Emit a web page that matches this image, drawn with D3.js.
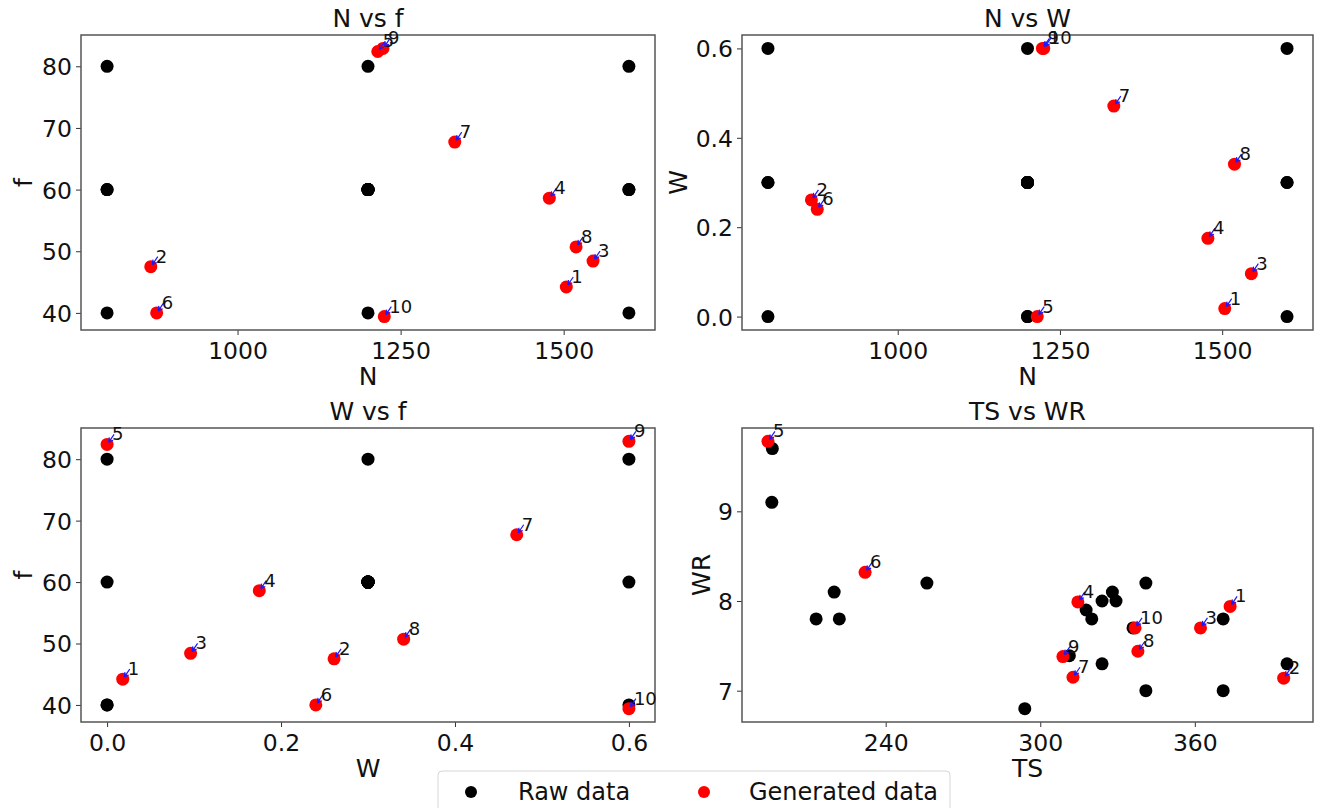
<!DOCTYPE html>
<html>
<head>
<meta charset="utf-8">
<script src="https://cdn.jsdelivr.net/npm/d3@7"></script>
<style>
  html, body { margin: 0; padding: 0; background: #fff; }
  svg { display: block; }
  text { font-family: "DejaVu Sans", sans-serif; fill: #111; }
</style>
</head>
<body>
<svg id="chart" width="1317" height="808"></svg>
<script>
// ---------- Data ----------
// Raw experimental runs (design points)
const rawN  = [800, 800, 800, 1600, 1600, 1600, 1200, 1200, 1200, 1200, 1200, 800, 1600, 1200, 1200, 1200, 1200, 1200, 1200, 1200];
const rawF  = [40, 80, 60, 40, 80, 60, 40, 80, 60, 60, 60, 60, 60, 60, 60, 60, 60, 60, 60, 60];
const rawW  = [0, 0.6, 0.3, 0.6, 0, 0.3, 0, 0.3, 0, 0.6, 0.3, 0.3, 0.3, 0.3, 0.3, 0.3, 0.3, 0.3, 0.3, 0.3];
// Raw responses
const rawTS = [196, 195.8, 213, 220, 222, 256, 294, 311.3, 317.8, 320, 324, 324, 328, 329.4, 336, 341, 341, 371, 371, 395.8];
const rawWR = [9.70, 9.10, 7.8, 8.1, 7.8, 8.2, 6.8, 7.39, 7.9, 7.8, 8.0, 7.3, 8.1, 8.0, 7.7, 8.2, 7.0, 7.8, 7.0, 7.3];

// Generated points, labelled 1..10
const genLabels = ["1", "2", "3", "4", "5", "6", "7", "8", "9", "10"];
const genN  = [1504, 867, 1545, 1478, 1215, 876, 1333, 1519, 1223, 1225];
const genF  = [44.2, 47.5, 48.4, 58.6, 82.4, 40.0, 67.7, 50.7, 82.9, 39.4];
const genW  = [0.018, 0.261, 0.096, 0.175, 0.0, 0.240, 0.471, 0.341, 0.600, 0.600];
const genTS = [373.7, 394.5, 362.2, 314.6, 194.3, 232.0, 312.7, 337.9, 308.8, 336.8];
const genWR = [7.94, 7.14, 7.70, 7.99, 9.78, 8.32, 7.15, 7.44, 7.38, 7.70];

// Axis ticks
const ticksN  = [1000, 1250, 1500];
const ticksF  = [40, 50, 60, 70, 80];
const ticksW  = [0.0, 0.2, 0.4, 0.6];
const ticksTS = [240, 300, 360];
const ticksWR = [7, 8, 9];

const legendLabels = ["Raw data", "Generated data"];
const colors = { raw: "#000000", gen: "#ff0000", arrow: "#1a1aff" };

// ---------- Layout ----------
const svg = d3.select("#chart");
const panels = [
  { title: "N vs f", xl: "N",  yl: "f",  rx: rawN,  ry: rawF,  gx: genN,  gy: genF,  xt: ticksN,  yt: ticksF,  xf: d3.format("d"),   yf: d3.format("d"),   box: [81, 655, 35, 330],  ylx: 32 },
  { title: "N vs W", xl: "N",  yl: "W",  rx: rawN,  ry: rawW,  gx: genN,  gy: genW,  xt: ticksN,  yt: ticksW,  xf: d3.format("d"),   yf: d3.format(".1f"), box: [742, 1313, 35, 330], ylx: 687 },
  { title: "W vs f", xl: "W",  yl: "f",  rx: rawW,  ry: rawF,  gx: genW,  gy: genF,  xt: ticksW,  yt: ticksF,  xf: d3.format(".1f"), yf: d3.format("d"),   box: [81, 655, 428, 722], ylx: 32 },
  { title: "TS vs WR", xl: "TS", yl: "WR", rx: rawTS, ry: rawWR, gx: genTS, gy: genWR, xt: ticksTS, yt: ticksWR, xf: d3.format("d"),   yf: d3.format("d"),   box: [742, 1313, 428, 722], ylx: 710 }
];

function padDomain(a, b) {
  const lo = Math.min(d3.min(a), d3.min(b));
  const hi = Math.max(d3.max(a), d3.max(b));
  const m = (hi - lo) * 0.05;
  return [lo - m, hi + m];
}

panels.forEach(p => {
  const [x0, x1, y0, y1] = p.box;
  const x = d3.scaleLinear().domain(padDomain(p.rx, p.gx)).range([x0, x1]);
  const y = d3.scaleLinear().domain(padDomain(p.ry, p.gy)).range([y1, y0]);
  const g = svg.append("g");

  // axes
  const xa = g.append("g").attr("transform", `translate(0,${y1})`)
    .call(d3.axisBottom(x).tickValues(p.xt).tickFormat(p.xf).tickSize(5).tickPadding(6).tickSizeOuter(0));
  const ya = g.append("g").attr("transform", `translate(${x0},0)`)
    .call(d3.axisLeft(y).tickValues(p.yt).tickFormat(p.yf).tickSize(5).tickPadding(4).tickSizeOuter(0));
  [xa, ya].forEach(a => {
    a.select(".domain").remove();
    a.selectAll(".tick line").attr("stroke", "#333").attr("stroke-width", 1);
    a.selectAll(".tick text").style("font-size", "23.5px").attr("fill", "#111")
      .style("font-family", "'DejaVu Sans', sans-serif");
  });
  xa.selectAll(".tick text").attr("dy", "0.75em");
  ya.selectAll(".tick text").attr("dy", "0.36em");

  // frame
  g.append("rect").attr("x", x0).attr("y", y0).attr("width", x1 - x0).attr("height", y1 - y0)
    .attr("fill", "none").attr("stroke", "#555").attr("stroke-width", 1.5);

  // title
  g.append("text").attr("x", (x0 + x1) / 2).attr("y", y0 - 8).attr("text-anchor", "middle")
    .style("font-size", "25px").text(p.title);
  // x label
  g.append("text").attr("x", (x0 + x1) / 2).attr("y", y1 + 55).attr("text-anchor", "middle")
    .style("font-size", "25px").text(p.xl);
  // y label
  g.append("text").attr("transform", `translate(${p.ylx},${(y0 + y1) / 2}) rotate(-90)`)
    .attr("text-anchor", "middle").style("font-size", "25px").text(p.yl);

  // raw points
  g.append("g").selectAll("circle").data(p.rx.map((v, i) => [v, p.ry[i]])).join("circle")
    .attr("cx", d => x(d[0])).attr("cy", d => y(d[1])).attr("r", 6.5).attr("fill", colors.raw);
  // generated points
  const gen = p.gx.map((v, i) => [v, p.gy[i], genLabels[i]]);
  g.append("g").selectAll("circle").data(gen).join("circle")
    .attr("cx", d => x(d[0])).attr("cy", d => y(d[1])).attr("r", 6.5).attr("fill", colors.gen);
  // annotations
  const ann = g.append("g").selectAll("g").data(gen).join("g")
    .attr("transform", d => `translate(${x(d[0])},${y(d[1])})`);
  ann.append("path")
    .attr("d", "M7,-10 L1.5,-2 M1.5,-2 L2.2,-7 M1.5,-2 L6,-4.2")
    .attr("fill", "none").attr("stroke", colors.arrow).attr("stroke-width", 1.2);
  ann.append("text").attr("x", 5).attr("y", -4).style("font-size", "18px").attr("fill", "#222").text(d => d[2]);
});

// ---------- Legend ----------
const lg = svg.append("g");
lg.append("rect").attr("x", 438).attr("y", 771).attr("width", 512).attr("height", 50).attr("rx", 4)
  .attr("fill", "#fff").attr("stroke", "#d6d6d6").attr("stroke-width", 1);
const legendItems = [
  { label: legendLabels[0], color: colors.raw, mx: 471, tx: 518 },
  { label: legendLabels[1], color: colors.gen, mx: 704, tx: 749 }
];
legendItems.forEach(it => {
  lg.append("circle").attr("cx", it.mx).attr("cy", 792).attr("r", 6).attr("fill", it.color);
  lg.append("text").attr("x", it.tx).attr("y", 800).style("font-size", "24px").text(it.label);
});
</script>
</body>
</html>
